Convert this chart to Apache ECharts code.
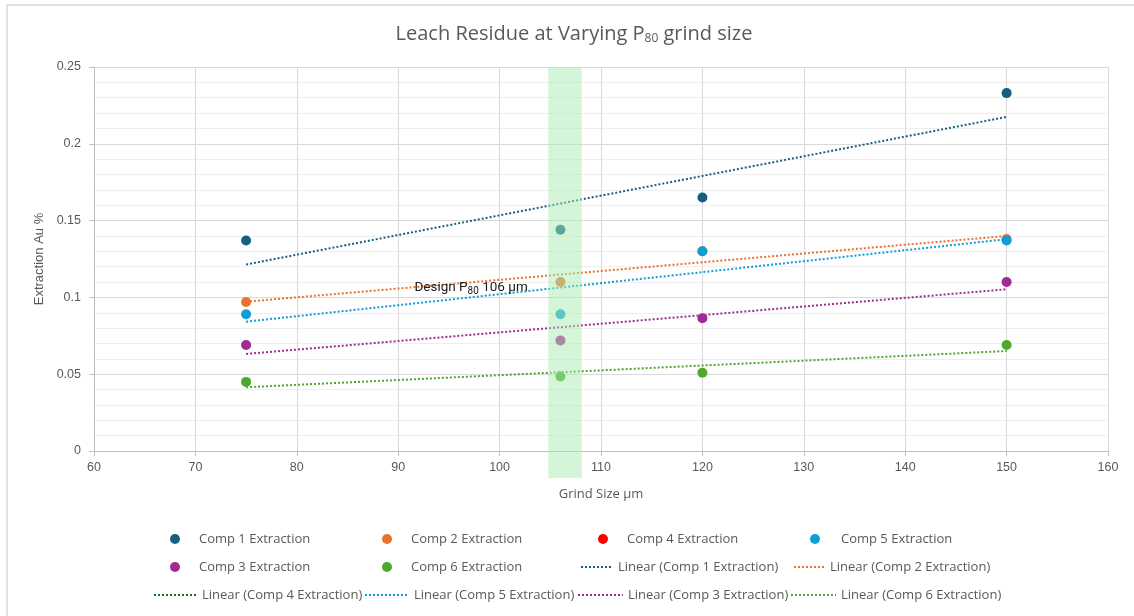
<!DOCTYPE html>
<html>
<head>
<meta charset="utf-8">
<script src="https://cdn.jsdelivr.net/npm/echarts@6/dist/echarts.min.js"></script>
<style>
  html, body { margin: 0; padding: 0; background: #fff; }
  #chart { width: 1134px; height: 616px; }
</style>
</head>
<body>
<div id="chart"></div>
<script>
// Grind sizes (µm) at which each composite was tested
const grindSizes = [75, 106, 120, 150];

// Leach residue, Au %
const comp1 = [0.137, 0.144, 0.165, 0.233];
const comp2 = [0.097, 0.110, 0.130, 0.138];
const comp4 = [];
const comp5 = [0.089, 0.089, 0.130, 0.137];
const comp3 = [0.069, 0.072, 0.0865, 0.110];
const comp6 = [0.045, 0.0485, 0.051, 0.069];

// Linear trendline end values at the first and last grind size
const trendX = [75, 150];
const trend1 = [0.1214, 0.2175];
const trend2 = [0.0972, 0.1400];
const trend4 = [];
const trend5 = [0.0842, 0.1379];
const trend3 = [0.0632, 0.1053];
const trend6 = [0.0415, 0.0651];

// Design P80 window
const designBand = [104.8, 108.1];
const designLabel = 'Design P{sub|80} 106 µm';
const designLabelAt = [91.6, 0.1064];

const xTicks = [60, 160, 10];
const yTicks = [0, 0.25, 0.05];

const colors = {
  c1: '#156082', c2: '#E97132', c4: '#FF0000', c5: '#0F9ED5',
  c3: '#A02B93', c6: '#4EA72E', t4: '#196B24'
};

const pts = arr => arr.map((v, i) => [grindSizes[i], v]);
const tline = arr => arr.map((v, i) => [trendX[i], v]);

function scatter(name, data, color) {
  return { name, type: 'scatter', data: pts(data), symbol: 'circle', symbolSize: 10,
    itemStyle: { color, opacity: 1 }, z: 3 };
}
function trend(name, data, color) {
  return { name, type: 'line', data: tline(data), symbol: 'none', showSymbol: false,
    lineStyle: { color, width: 2, type: [2, 2] }, itemStyle: { color }, z: 2, silent: true };
}

const font = "'Liberation Sans', Arial, sans-serif";
const legendFont = "'Open Sans', Roboto, sans-serif";

// key entries: name, left, top, icon width, text indent
const legendItems = [
  ['Comp 1 Extraction', 170, 532, 10, 14],
  ['Comp 2 Extraction', 382, 532, 10, 14],
  ['Comp 4 Extraction', 598, 532, 10, 14],
  ['Comp 5 Extraction', 810, 532, 10, 16],
  ['Comp 3 Extraction', 170, 560, 10, 14],
  ['Comp 6 Extraction', 382, 560, 10, 14],
  ['Linear (Comp 1 Extraction)', 580, 560, 32, 0],
  ['Linear (Comp 2 Extraction)', 793, 560, 31, 0],
  ['Linear (Comp 4 Extraction)', 153, 588, 43, 0],
  ['Linear (Comp 5 Extraction)', 364, 588, 44, 0],
  ['Linear (Comp 3 Extraction)', 577, 588, 45, 0],
  ['Linear (Comp 6 Extraction)', 790, 588, 45, 0]
];

const chart = echarts.init(document.getElementById('chart'), null, { renderer: 'canvas' });

const option = {
  backgroundColor: '#ffffff',
  animation: false,
  title: {
    text: 'Leach Residue at Varying P{sub|80} grind size',
    left: 569, top: 19, textAlign: 'center',
    textStyle: {
      fontFamily: "'Open Sans', sans-serif", fontSize: 20, fontWeight: 'normal', color: '#595959',
      rich: { sub: { fontSize: 12, color: '#595959', verticalAlign: 'bottom', padding: [9, 0, 0, 0], fontFamily: "'Open Sans', sans-serif" } }
    }
  },
  graphic: [{
    type: 'rect', silent: true,
    shape: { x: 7, y: 5, width: 1200, height: 700 },
    style: { fill: 'none', stroke: '#d9d9d9', lineWidth: 1.5 }
  }],
  legend: legendItems.map(([name, left, top, w, indent]) => ({
    data: [name], left, top, itemWidth: w, itemHeight: 10, itemGap: 0, padding: 0,
    selectedMode: false,
    itemStyle: indent ? {} : { opacity: 0 },
    textStyle: { fontFamily: legendFont, fontSize: 13, color: '#595959', lineHeight: 14,
      padding: [0, 0, 0, indent] }
  })),
  grid: { left: 94, right: 26, top: 67, bottom: 165, containLabel: false },
  xAxis: {
    type: 'value', min: xTicks[0], max: xTicks[1], interval: xTicks[2],
    name: 'Grind Size µm', nameLocation: 'middle', nameGap: 37,
    nameTextStyle: { fontFamily: legendFont, fontSize: 13, color: '#595959' },
    axisLine: { show: true, lineStyle: { color: '#bfbfbf', width: 1 } },
    axisTick: { show: true, length: 5, lineStyle: { color: '#bfbfbf' } },
    axisLabel: { fontFamily: font, fontSize: 12.5, color: '#595959', margin: 10 },
    splitLine: { show: true, lineStyle: { color: '#d9d9d9', width: 1 } }
  },
  yAxis: {
    type: 'value', min: yTicks[0], max: yTicks[1], interval: yTicks[2],
    name: 'Extraction Au %', nameLocation: 'middle', nameGap: 46,
    nameTextStyle: { fontFamily: font, fontSize: 13, color: '#595959' },
    axisLine: { show: true, lineStyle: { color: '#bfbfbf', width: 1 } },
    axisTick: { show: true, length: 5, lineStyle: { color: '#bfbfbf' } },
    axisLabel: { fontFamily: font, fontSize: 12.5, color: '#595959', margin: 13 },
    splitLine: { show: true, lineStyle: { color: '#d9d9d9', width: 1 } },
    minorTick: { show: false, splitNumber: 5 },
    minorSplitLine: { show: true, lineStyle: { color: '#eeeeee', width: 1 } }
  },
  series: [
    scatter('Comp 1 Extraction', comp1, colors.c1),
    scatter('Comp 2 Extraction', comp2, colors.c2),
    scatter('Comp 4 Extraction', comp4, colors.c4),
    scatter('Comp 5 Extraction', comp5, colors.c5),
    scatter('Comp 3 Extraction', comp3, colors.c3),
    scatter('Comp 6 Extraction', comp6, colors.c6),
    trend('Linear (Comp 1 Extraction)', trend1, colors.c1),
    trend('Linear (Comp 2 Extraction)', trend2, colors.c2),
    trend('Linear (Comp 4 Extraction)', trend4, colors.t4),
    trend('Linear (Comp 5 Extraction)', trend5, colors.c5),
    trend('Linear (Comp 3 Extraction)', trend3, colors.c3),
    trend('Linear (Comp 6 Extraction)', trend6, colors.c6),
    {
      // translucent design window drawn over the points, running down past the axis labels
      name: 'Design P80', type: 'custom', clip: false, silent: true, z: 5,
      data: [[designBand[0], designBand[1]]],
      renderItem: (params, api) => {
        const tl = api.coord([api.value(0), yTicks[1]]);
        const br = api.coord([api.value(1), yTicks[0]]);
        const lbl = api.coord(designLabelAt);
        return {
          type: 'group',
          children: [
            { type: 'rect', shape: { x: tl[0], y: tl[1], width: br[0] - tl[0], height: br[1] - tl[1] + 27 },
              style: { fill: 'rgba(170, 235, 178, 0.5)' } },
            { type: 'text', x: lbl[0], y: lbl[1],
              style: { text: designLabel, fill: '#1a1a1a', align: 'left', verticalAlign: 'middle',
                font: "13.5px Roboto, sans-serif",
                rich: { sub: { fontSize: 10, fill: '#1a1a1a', padding: [8, 0, 0, 0], fontFamily: 'Roboto, sans-serif' } } } }
          ]
        };
      }
    }
  ]
};

chart.setOption(option);
</script>
</body>
</html>
